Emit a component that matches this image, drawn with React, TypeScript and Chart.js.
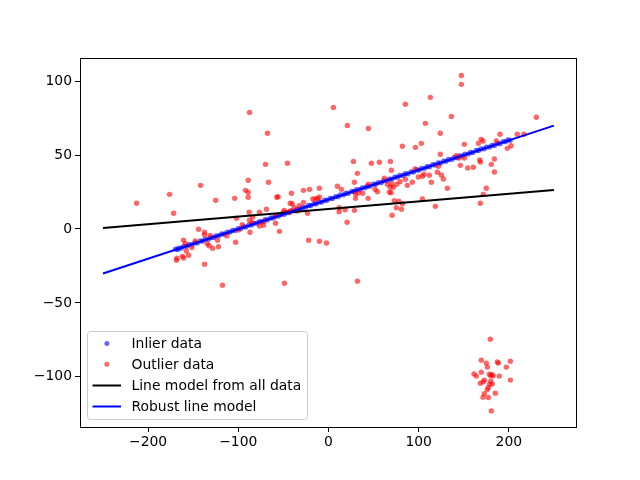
import { useEffect, useRef } from "react";
import { Chart, registerables } from "chart.js";

Chart.register(...registerables);

// ---- data ----
const seriesLabels = ["Inlier data", "Outlier data", "Line model from all data", "Robust line model"];

const xTickValues = [-200, -100, 0, 100, 200];
const xTickLabels = ["\u2212200", "\u2212100", "0", "100", "200"];
const yTickValues = [-100, -50, 0, 50, 100];
const yTickLabels = ["\u2212100", "\u221250", "0", "50", "100"];

const inlierX = [
  -169.6, -167.2, -165.8, -163.1, -160.4, -157.3, -154.9, -151.6, -148.2, -145.5,
  -142.1, -139.4, -136.7, -133.2, -130.5, -127.1, -124.6, -121.3, -118.2, -115.7,
  -112.4, -109.1, -106.3, -103.5, -100.2, -97.4, -94.1, -91.6, -88.3, -85.2,
  -82.5, -79.1, -76.4, -73.6, -70.2, -67.5, -64.1, -61.3, -58.6, -55.2,
  -52.7, -49.1, -46.4, -43.3, -40.6, -37.1, -34.5, -31.2, -28.7, -25.3,
  -22.1, -19.6, -16.2, -13.5, -10.1, -7.4, -4.2, -1.6, 1.8, 4.5,
  7.9, 10.6, 13.2, 16.7, 19.4, 22.1, 25.8, 28.5, 31.2, 34.6,
  37.3, 40.8, 43.5, 46.1, 49.7, 52.4, 55.2, 58.6, 61.3, 64.9,
  67.5, 70.2, 73.6, 76.4, 79.1, 82.7, 85.3, 88.2, 91.6, 94.3,
  97.8, 100.5, 103.1, 106.6, 109.4, 112.2, 115.7, 118.3, 121.6, 124.2,
  127.8, 130.5, 133.1, 136.6, 139.4, 142.7, 145.2, 148.6, 151.3, 154.9,
  157.5, 160.2, 163.8, 166.4, 169.1, 172.6, 175.3, 178.7, 181.4, 184.1,
  187.6, 190.3, 193.7, 196.4, 199.2, 201.5,
];
const inlierY = [
  -13.6, -13.8, -12.9, -12.9, -11.7, -11.7, -10.6, -10.6, -9.4, -9.5,
  -8.1, -8.2, -7.0, -6.9, -5.8, -5.7, -4.6, -4.5, -3.3, -3.5,
  -2.2, -2.1, -0.9, -1.0, 0.3, 0.2, 1.5, 1.4, 2.6, 2.7,
  3.8, 3.9, 5.0, 5.0, 6.3, 6.2, 7.5, 7.5, 8.6, 8.7,
  9.8, 9.9, 11.0, 11.1, 12.2, 12.3, 13.4, 13.5, 14.6, 14.7,
  15.9, 15.8, 17.1, 17.0, 18.3, 18.2, 19.5, 19.4, 20.7, 20.6,
  21.9, 21.8, 23.0, 23.1, 24.2, 24.1, 25.5, 25.4, 26.6, 26.6,
  27.8, 27.9, 29.0, 28.9, 30.3, 30.2, 31.4, 31.4, 32.6, 32.7,
  33.8, 33.7, 35.1, 35.0, 36.2, 36.2, 37.4, 37.3, 38.7, 38.5,
  39.9, 39.8, 41.0, 41.0, 42.2, 42.1, 43.5, 43.3, 44.7, 44.5,
  45.9, 45.8, 47.0, 47.0, 48.2, 48.2, 49.4, 49.4, 50.6, 50.7,
  51.8, 51.7, 53.1, 53.0, 54.2, 54.2, 55.4, 55.4, 56.6, 56.5,
  57.9, 57.7, 59.1, 59.0, 60.2, 60.0,
];

const outlierX = [
  -87.5, -89, -141.8, -176.2, -212.7, -125, -104, -92, -89, -89,
  -171.7, -102, -95.6, -88, -87, -144, -137.4, -137.4, -131, -160.7,
  -147.7, -123, -112.6, -103, -132.5, -122, -151.4, -158.8, -157.7, -168,
  -168.5, -162, -155, -137.4, -134.4, -128.5, -117.5, -67.6, -69.8, -66.5,
  -45.4, 5.5, 21, 44.3, 85.3, 82, 27.7, 32.1, 47.6, 56.5,
  68.7, 69.8, 62, 28.8, 10, 14.4, 44.3, 51.7, 65.4, 70.2,
  75.8, 72, 67.6, 87.5, 30, 33, 38, 30, 44, 73,
  78, 81, 70.6, -27.7, -21, -10, -41, -57.2, -56, -42.4,
  -17.3, -14.4, -12.2, -10, -23.3, -27.7, -32.5, -48.8, -68.7, -76.5,
  -84, -87.5, -84.9, -72, -58.7, -54.3, -22, -10, -2.2, 20.7,
  11.9, 18.5, 28.8, 11.9, -72, -58.7, -50, -43.2, -76.5, -99.7,
  -160.5, -38, -40.2, -42.4, -34.3, 54.3, 68.4, 69.5, 79.4, 85.3,
  82, 75.3, 147.4, 147.4, 113, 107.5, 136.3, 230.5, 124, 190.2,
  209.4, 216.8, 150.7, 169.2, 171.4, 166.2, 186.1, 198.3, 202.4, 96.4,
  103, 124, 141.5, 144.8, 150.7, 146.3, 154.5, 160.7, 167.8, 168.4,
  184, 180.6, 184, 121.9, 120.8, 125.2, 127.4, 111.9, 114.1, 131.9,
  96, 99.7, 104.2, 106, 93, 175, 171.7, 168.4, 104.2, 118.6,
  -48.8, 32.1,
  179.5, 169.5, 175, 176.2, 187.3, 188.4, 201.7, 197.2, 169.5, 161.4,
  164, 178.4, 181, 180, 182.8, 189.5, 201.7, 172.9, 171.7, 168.4,
  180, 178.8, 181.7, 177.3, 176.2, 172.9, 171.4, 177.3, 185, 180.6,
];
const outlierY = [
  78.8, 32.9, 29.5, 23.4, 17.4, 19.4, 20.7, 26.1, 24.8, 21.4,
  10.6, 7.2, 2.9, 11.3, -2.2, -0.2, -2.2, -4, -4.3, -7.6,
  -8.1, -7.6, -4.7, -9, -11.3, -12, -12.6, -9.9, -14.9, -19.8,
  -21.2, -18.5, -17.8, -23.9, -9.9, -13, -38, 64.7, 43.7, 31.6,
  44.4, 82.2, 70, 68, 84.3, 55.9, 45.7, 37.6, 44.4, 45.1,
  45.7, 39.7, 34.3, 31.6, 28.9, 26.8, 30.2, 26.8, 30.2, 30.4,
  30.2, 28.2, 24.8, 29.5, 23.6, 24.3, 24.1, 20.7, 20.7, 19.1,
  18.7, 13.3, 9.3, 26.1, 26.8, 27.5, 24.1, 21.4, 21.8, 17.4,
  20.3, 20.3, 20.7, 21.6, 10.6, 18, 15.8, 12.6, 13.3, 11.3,
  8, 5.9, 4.3, 2.5, 3.9, -1.6, -7.6, -8.3, -9.5, 4.5,
  11.7, 13, 12.6, 14.4, 4.9, 8.8, 11.5, 11.5, 2, -0.7,
  -19.6, 14.4, 17.1, 12.2, 12.2, 25.2, 28.2, 24.5, 32, 33.6,
  17.1, 14.4, 103.8, 97.8, 89, 71.4, 76.1, 75.5, 64.7, 64,
  64, 64, 57.2, 60.6, 59.5, 57.9, 59.5, 54.5, 56.3, 55.2,
  57.9, 50.5, 49.5, 48, 48, 43, 41.2, 41.7, 46.6, 45.3,
  47.3, 43.7, 38.5, 42.4, 38.3, 36.5, 33.8, 36.3, 31.6, 27.5,
  40.5, 35.1, 35.6, 37, 31.6, 27.5, 23.4, 17.4, 20.3, 15.3,
  -36.7, -35.3,
  -74.5, -88.7, -90.7, -93.4, -90, -90.7, -89.4, -93.4, -96.8, -98,
  -99.5, -98.2, -98.4, -99.3, -99.3, -99.5, -102.2, -102.2, -103.4, -104.3,
  -102.9, -104.9, -104.9, -107.2, -108.6, -111.3, -113.7, -114, -111, -123,
];

const lineX = [-250, 250];
const lineAllY = [0.6, 26.3];
const lineRobustY = [-30.1, 69.9];

const xMin = -275.5;
const xMax = 274.5;
const yMin = -133.9;
const yMax = 115.6;

const FONT = "'DejaVu Sans', sans-serif";

const toPoints = (xs: number[], ys: number[]) => xs.map((x, i) => ({ x, y: ys[i] }));

const framePlugin = {
  id: "frame",
  afterDatasetsDraw(chart: any) {
    const { ctx, chartArea } = chart;
    ctx.save();
    ctx.strokeStyle = "#000";
    ctx.lineWidth = 1;
    ctx.strokeRect(
      Math.round(chartArea.left) + 0.5,
      Math.round(chartArea.top) + 0.5,
      Math.round(chartArea.right - chartArea.left),
      Math.round(chartArea.bottom - chartArea.top)
    );
    ctx.restore();
  },
};

const legendPlugin = {
  id: "mplLegend",
  afterDraw(chart: any) {
    const { ctx, chartArea } = chart;
    const w = 220;
    const h = 88;
    const x0 = chartArea.left + 7.5;
    const y0 = chartArea.bottom - 7.5 - h;
    ctx.save();
    ctx.beginPath();
    const r = 3;
    ctx.moveTo(x0 + r, y0);
    ctx.lineTo(x0 + w - r, y0);
    ctx.arcTo(x0 + w, y0, x0 + w, y0 + r, r);
    ctx.lineTo(x0 + w, y0 + h - r);
    ctx.arcTo(x0 + w, y0 + h, x0 + w - r, y0 + h, r);
    ctx.lineTo(x0 + r, y0 + h);
    ctx.arcTo(x0, y0 + h, x0, y0 + h - r, r);
    ctx.lineTo(x0, y0 + r);
    ctx.arcTo(x0, y0, x0 + r, y0, r);
    ctx.closePath();
    ctx.fillStyle = "rgba(255,255,255,0.8)";
    ctx.fill();
    ctx.strokeStyle = "#cccccc";
    ctx.lineWidth = 1;
    ctx.stroke();

    const rows = [12, 32.7, 54, 75];
    const datasets = chart.data.datasets;
    datasets.forEach((ds: any, i: number) => {
      const cy = y0 + rows[i];
      if (ds.showLine) {
        ctx.beginPath();
        ctx.strokeStyle = ds.borderColor;
        ctx.lineWidth = 2;
        ctx.moveTo(x0 + 5, cy);
        ctx.lineTo(x0 + 33.5, cy);
        ctx.stroke();
      } else {
        ctx.beginPath();
        ctx.fillStyle = ds.backgroundColor;
        ctx.arc(x0 + 19.4, cy, 2.5, 0, Math.PI * 2);
        ctx.fill();
      }
      ctx.fillStyle = "#000";
      ctx.font = `13.9px ${FONT}`;
      ctx.textBaseline = "middle";
      ctx.textAlign = "left";
      ctx.fillText(ds.label, x0 + 44, cy + 1);
    });
    ctx.restore();
  },
};

export default function App() {
  const canvasRef = useRef<HTMLCanvasElement | null>(null);

  useEffect(() => {
    if (!canvasRef.current) return;
    const tickFont = { family: FONT, size: 13.9 };
    const chart = new Chart(canvasRef.current, {
      type: "scatter",
      data: {
        datasets: [
          {
            label: seriesLabels[0],
            data: toPoints(inlierX, inlierY),
            backgroundColor: "rgba(0,0,255,0.6)",
            borderWidth: 0,
            pointRadius: 2.6,
            order: 3,
          },
          {
            label: seriesLabels[1],
            data: toPoints(outlierX, outlierY),
            backgroundColor: "rgba(255,0,0,0.6)",
            borderWidth: 0,
            pointRadius: 2.7,
            order: 2,
          },
          {
            label: seriesLabels[2],
            data: toPoints(lineX, lineAllY),
            showLine: true,
            borderColor: "#000000",
            backgroundColor: "#000000",
            borderWidth: 2,
            pointRadius: 0,
            order: 1,
          },
          {
            label: seriesLabels[3],
            data: toPoints(lineX, lineRobustY),
            showLine: true,
            borderColor: "#0000ff",
            backgroundColor: "#0000ff",
            borderWidth: 2,
            pointRadius: 0,
            order: 0,
          },
        ] as any,
      },
      options: {
        animation: false,
        responsive: false,
        devicePixelRatio: 1,
        layout: { padding: { top: 58, right: 64, left: 0, bottom: 0 } },
        plugins: { legend: { display: false }, tooltip: { enabled: false } },
        scales: {
          x: {
            type: "linear",
            min: xMin,
            max: xMax,
            afterBuildTicks: (s: any) => {
              s.ticks = xTickValues.map((v) => ({ value: v }));
            },
            afterFit: (s: any) => {
              s.height = 53;
            },
            grid: {
              display: true,
              drawOnChartArea: false,
              drawTicks: true,
              tickLength: 5,
              color: "#000",
              lineWidth: 1,
            },
            border: { display: false },
            ticks: {
              color: "#000",
              font: tickFont,
              padding: 2,
              maxRotation: 0,
              autoSkip: false,
              callback: (v: any) => {
                const i = xTickValues.indexOf(Number(v));
                return i >= 0 ? xTickLabels[i] : "";
              },
            },
          },
          y: {
            type: "linear",
            min: yMin,
            max: yMax,
            afterBuildTicks: (s: any) => {
              s.ticks = yTickValues.map((v) => ({ value: v }));
            },
            afterFit: (s: any) => {
              s.width = 80;
            },
            grid: {
              display: true,
              drawOnChartArea: false,
              drawTicks: true,
              tickLength: 5,
              color: "#000",
              lineWidth: 1,
            },
            border: { display: false },
            ticks: {
              color: "#000",
              font: tickFont,
              padding: 3,
              autoSkip: false,
              callback: (v: any) => {
                const i = yTickValues.indexOf(Number(v));
                return i >= 0 ? yTickLabels[i] : "";
              },
            },
          },
        },
      } as any,
      plugins: [framePlugin, legendPlugin],
    });
    return () => chart.destroy();
  }, []);

  return (
    <div style={{ position: "fixed", left: 0, top: 0, width: 640, height: 480, background: "#fff" }}>
      <canvas ref={canvasRef} width={640} height={480} style={{ width: 640, height: 480 }} />
    </div>
  );
}
